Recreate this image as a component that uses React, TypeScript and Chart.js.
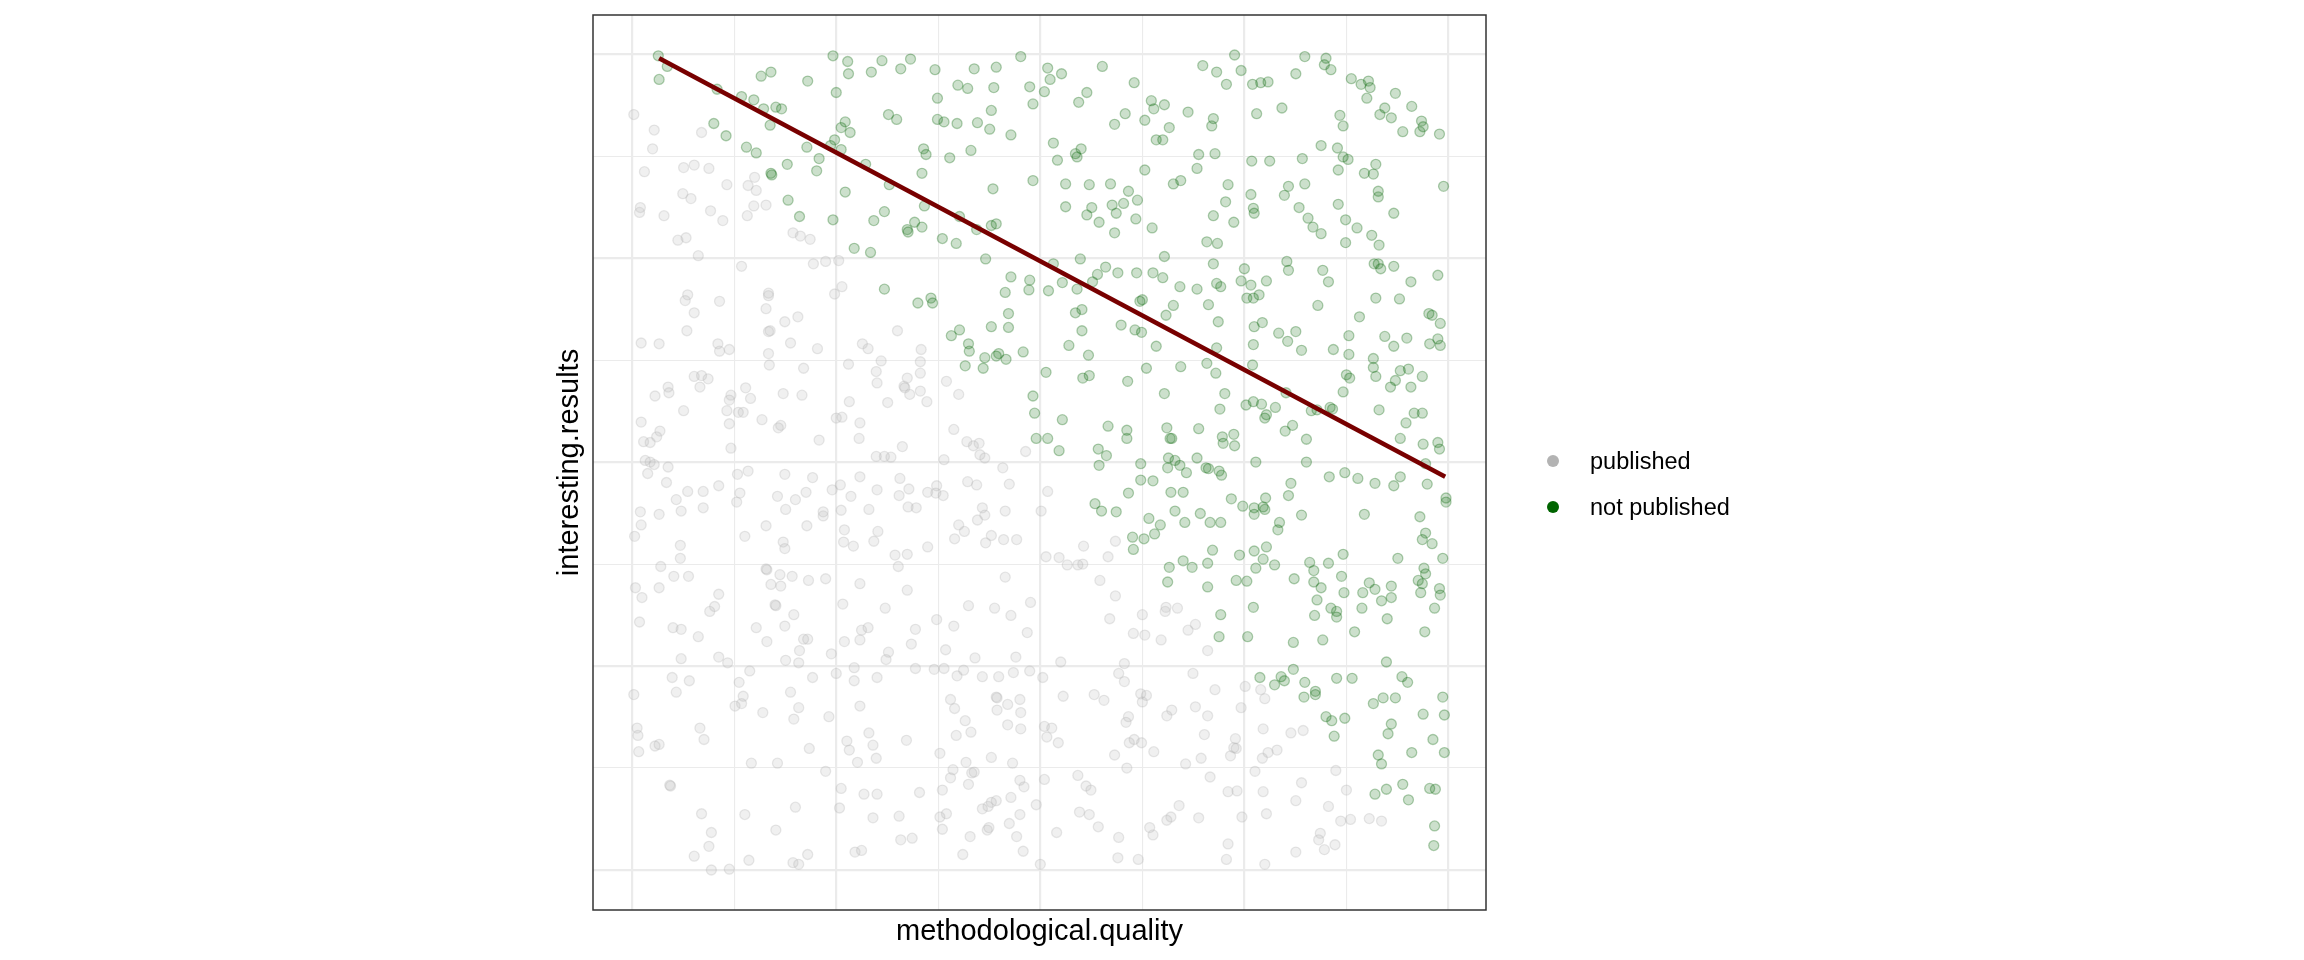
import React, { useEffect, useRef } from 'react';
import Chart from 'chart.js/auto';

// grey points: studies that got published
const published: [number, number][] = [
  // upper left
  [0.002, 0.926], [0.027, 0.907], [0.025, 0.884], [0.085, 0.904], [0.015, 0.856], [0.063, 0.861], [0.076, 0.864],
  [0.094, 0.860], [0.116, 0.840], [0.062, 0.829], [0.072, 0.823], [0.010, 0.812], [0.009, 0.806], [0.039, 0.802],
  [0.096, 0.808], [0.111, 0.796], [0.056, 0.772], [0.066, 0.775], [0.081, 0.753], [0.134, 0.740], [0.150, 0.849],
  [0.142, 0.839], [0.152, 0.833], [0.149, 0.814], [0.141, 0.802], [0.164, 0.815], [0.197, 0.781], [0.206, 0.777],
  [0.218, 0.773], [0.222, 0.743], [0.237, 0.746], [0.253, 0.747], [0.257, 0.715], [0.248, 0.706], [0.068, 0.705],
  [0.065, 0.698], [0.076, 0.683], [0.107, 0.697], [0.167, 0.707], [0.167, 0.704], [0.164, 0.688], [0.187, 0.672],
  [0.203, 0.678], [0.067, 0.661], [0.167, 0.660], [0.169, 0.661], [0.011, 0.646], [0.033, 0.645], [0.105, 0.645],
  [0.107, 0.636], [0.119, 0.638], [0.167, 0.633], [0.194, 0.646], [0.227, 0.639], [0.282, 0.645], [0.289, 0.639],
  [0.325, 0.661], [0.354, 0.638],
  // middle left
  [0.168, 0.619], [0.210, 0.615], [0.265, 0.620], [0.305, 0.624], [0.353, 0.623], [0.299, 0.611], [0.300, 0.597],
  [0.337, 0.603], [0.333, 0.593], [0.334, 0.591], [0.353, 0.609], [0.340, 0.583], [0.353, 0.587], [0.361, 0.574],
  [0.313, 0.573], [0.266, 0.574], [0.076, 0.605], [0.085, 0.606], [0.093, 0.602], [0.083, 0.592], [0.044, 0.592],
  [0.045, 0.585], [0.028, 0.581], [0.063, 0.563], [0.011, 0.549], [0.034, 0.538], [0.030, 0.531], [0.022, 0.524],
  [0.014, 0.525], [0.121, 0.582], [0.119, 0.576], [0.116, 0.563], [0.130, 0.561], [0.136, 0.561], [0.119, 0.547],
  [0.121, 0.517], [0.139, 0.591], [0.145, 0.578], [0.185, 0.584], [0.208, 0.582], [0.159, 0.552], [0.182, 0.545],
  [0.179, 0.542], [0.229, 0.527], [0.250, 0.554], [0.257, 0.555], [0.279, 0.548], [0.278, 0.529], [0.331, 0.519],
  [0.299, 0.507], [0.309, 0.507], [0.317, 0.506], [0.016, 0.502], [0.022, 0.500], [0.027, 0.497], [0.019, 0.486],
  [0.044, 0.494], [0.042, 0.475], [0.068, 0.464], [0.087, 0.464], [0.106, 0.471], [0.054, 0.454], [0.060, 0.440],
  [0.087, 0.444], [0.010, 0.439], [0.033, 0.436], [0.011, 0.423], [0.003, 0.409], [0.059, 0.398], [0.059, 0.382],
  [0.129, 0.485], [0.142, 0.489], [0.132, 0.462], [0.128, 0.451], [0.138, 0.409], [0.187, 0.485], [0.221, 0.481],
  [0.178, 0.458], [0.200, 0.454], [0.213, 0.463], [0.188, 0.442], [0.164, 0.422], [0.214, 0.422], [0.234, 0.439],
  [0.234, 0.434], [0.185, 0.402], [0.187, 0.394], [0.245, 0.466], [0.255, 0.472], [0.279, 0.482], [0.268, 0.458],
  [0.300, 0.466], [0.328, 0.480], [0.339, 0.467], [0.327, 0.459], [0.338, 0.445], [0.348, 0.444], [0.362, 0.463],
  [0.373, 0.471], [0.372, 0.462], [0.256, 0.441], [0.290, 0.442], [0.260, 0.417], [0.259, 0.402], [0.271, 0.397],
  [0.296, 0.403], [0.301, 0.415], [0.322, 0.386], [0.337, 0.387], [0.326, 0.372], [0.362, 0.396], [0.035, 0.372],
  [0.051, 0.360], [0.069, 0.360], [0.004, 0.346], [0.012, 0.334], [0.033, 0.346], [0.106, 0.338], [0.101, 0.323],
  [0.095, 0.317], [0.009, 0.304], [0.050, 0.297], [0.060, 0.295], [0.081, 0.286], [0.060, 0.259], [0.106, 0.261],
  [0.117, 0.254], [0.164, 0.369], [0.165, 0.368], [0.181, 0.362], [0.196, 0.360], [0.170, 0.350], [0.182, 0.348],
  [0.216, 0.355], [0.237, 0.357], [0.175, 0.325], [0.176, 0.324], [0.198, 0.313], [0.152, 0.297], [0.187, 0.299],
  [0.165, 0.280], [0.210, 0.283], [0.215, 0.283], [0.205, 0.269], [0.188, 0.257], [0.204, 0.254], [0.244, 0.265],
  [0.279, 0.351], [0.337, 0.343], [0.258, 0.326], [0.310, 0.321], [0.281, 0.294], [0.289, 0.297], [0.347, 0.295],
  [0.260, 0.280], [0.279, 0.282], [0.342, 0.277], [0.314, 0.267], [0.311, 0.258], [0.373, 0.307],
  // lower left
  [0.049, 0.236], [0.070, 0.232], [0.054, 0.218], [0.002, 0.215], [0.131, 0.230], [0.144, 0.244], [0.136, 0.213],
  [0.126, 0.201], [0.134, 0.204], [0.160, 0.193], [0.194, 0.218], [0.221, 0.236], [0.204, 0.199], [0.198, 0.185],
  [0.241, 0.188], [0.250, 0.241], [0.272, 0.248], [0.272, 0.232], [0.300, 0.236], [0.347, 0.247], [0.370, 0.246],
  [0.279, 0.201], [0.006, 0.174], [0.007, 0.165], [0.008, 0.145], [0.028, 0.152], [0.033, 0.154], [0.083, 0.174],
  [0.088, 0.160], [0.146, 0.131], [0.178, 0.131], [0.217, 0.149], [0.263, 0.158], [0.266, 0.147], [0.290, 0.168],
  [0.295, 0.153], [0.276, 0.132], [0.299, 0.137], [0.336, 0.159], [0.237, 0.121], [0.046, 0.104], [0.047, 0.103],
  [0.085, 0.069], [0.097, 0.046], [0.094, 0.029], [0.076, 0.017], [0.097, 0.000], [0.119, 0.001], [0.138, 0.068],
  [0.143, 0.012], [0.176, 0.049], [0.200, 0.077], [0.215, 0.019], [0.197, 0.009], [0.204, 0.007], [0.256, 0.100],
  [0.254, 0.076], [0.284, 0.093], [0.300, 0.093], [0.295, 0.064], [0.327, 0.066], [0.352, 0.095], [0.329, 0.037],
  [0.343, 0.039], [0.273, 0.022], [0.281, 0.024],
  // middle centre
  [0.385, 0.599], [0.400, 0.583], [0.394, 0.540], [0.410, 0.525], [0.418, 0.520], [0.425, 0.523], [0.426, 0.509],
  [0.432, 0.505], [0.382, 0.503], [0.482, 0.513], [0.454, 0.493], [0.411, 0.476], [0.422, 0.472], [0.462, 0.473],
  [0.381, 0.459], [0.509, 0.464], [0.429, 0.444], [0.432, 0.435], [0.423, 0.429], [0.457, 0.440], [0.501, 0.440],
  [0.400, 0.423], [0.407, 0.415], [0.395, 0.406], [0.433, 0.401], [0.440, 0.410], [0.455, 0.405], [0.471, 0.405],
  [0.507, 0.384], [0.523, 0.383], [0.533, 0.374], [0.546, 0.374], [0.552, 0.375], [0.553, 0.397], [0.583, 0.384],
  [0.592, 0.403], [0.457, 0.359], [0.573, 0.355], [0.592, 0.336], [0.412, 0.324], [0.444, 0.321], [0.464, 0.312],
  [0.488, 0.328], [0.394, 0.299], [0.484, 0.291], [0.585, 0.308], [0.625, 0.313], [0.653, 0.317], [0.654, 0.322],
  [0.668, 0.321], [0.690, 0.301], [0.681, 0.294], [0.614, 0.290], [0.628, 0.288], [0.648, 0.282], [0.705, 0.269],
  [0.384, 0.270], [0.420, 0.260], [0.470, 0.261], [0.525, 0.255], [0.603, 0.253],
  // lower centre
  [0.382, 0.247], [0.398, 0.238], [0.406, 0.245], [0.429, 0.237], [0.449, 0.237], [0.467, 0.242], [0.487, 0.244],
  [0.503, 0.236], [0.390, 0.209], [0.395, 0.198], [0.446, 0.212], [0.447, 0.211], [0.447, 0.196], [0.460, 0.203],
  [0.475, 0.209], [0.476, 0.193], [0.408, 0.183], [0.415, 0.169], [0.397, 0.165], [0.460, 0.178], [0.476, 0.173],
  [0.377, 0.143], [0.409, 0.132], [0.440, 0.138], [0.466, 0.131], [0.528, 0.213], [0.566, 0.215], [0.578, 0.208],
  [0.596, 0.241], [0.603, 0.231], [0.505, 0.176], [0.514, 0.174], [0.508, 0.163], [0.522, 0.156], [0.608, 0.188],
  [0.605, 0.181], [0.591, 0.141], [0.609, 0.156], [0.615, 0.160], [0.624, 0.156], [0.606, 0.125], [0.623, 0.216],
  [0.630, 0.214], [0.625, 0.206], [0.639, 0.145], [0.687, 0.241], [0.714, 0.221], [0.661, 0.196], [0.655, 0.189],
  [0.690, 0.200], [0.705, 0.189], [0.701, 0.166], [0.678, 0.130], [0.697, 0.137], [0.733, 0.140], [0.739, 0.161],
  [0.737, 0.150], [0.740, 0.149], [0.746, 0.199], [0.393, 0.123], [0.390, 0.113], [0.416, 0.119], [0.419, 0.120],
  [0.380, 0.098], [0.412, 0.105], [0.475, 0.110], [0.480, 0.102], [0.385, 0.069], [0.377, 0.065], [0.380, 0.050],
  [0.429, 0.075], [0.436, 0.078], [0.440, 0.083], [0.446, 0.085], [0.464, 0.089], [0.475, 0.068], [0.462, 0.057],
  [0.495, 0.080], [0.435, 0.049], [0.437, 0.052], [0.414, 0.041], [0.471, 0.041], [0.405, 0.019], [0.479, 0.023],
  [0.500, 0.007], [0.505, 0.111], [0.546, 0.116], [0.556, 0.103], [0.562, 0.098], [0.548, 0.071], [0.560, 0.068],
  [0.571, 0.053], [0.520, 0.046], [0.596, 0.040], [0.595, 0.015], [0.620, 0.013], [0.708, 0.114], [0.670, 0.079],
  [0.660, 0.065], [0.655, 0.061], [0.634, 0.052], [0.638, 0.043], [0.694, 0.064], [0.730, 0.096], [0.741, 0.097],
  [0.747, 0.065], [0.730, 0.032], [0.728, 0.013],
  // lower right
  [0.751, 0.225], [0.770, 0.221], [0.775, 0.210], [0.773, 0.173], [0.807, 0.168], [0.822, 0.171], [0.779, 0.144],
  [0.772, 0.137], [0.790, 0.147], [0.763, 0.121], [0.820, 0.107], [0.862, 0.122], [0.875, 0.098], [0.773, 0.096],
  [0.813, 0.085], [0.777, 0.069], [0.853, 0.078], [0.868, 0.060], [0.880, 0.062], [0.903, 0.063], [0.918, 0.060],
  [0.843, 0.045], [0.841, 0.037], [0.848, 0.025], [0.861, 0.031], [0.813, 0.022], [0.775, 0.007],
];

// green points: studies that were not published
const notPublished: [number, number][] = [
  // upper left
  [0.032, 0.998], [0.043, 0.985], [0.033, 0.969], [0.104, 0.957], [0.100, 0.915], [0.115, 0.900], [0.134, 0.948],
  [0.149, 0.944], [0.158, 0.973], [0.170, 0.978], [0.161, 0.933], [0.176, 0.935], [0.183, 0.933], [0.169, 0.913],
  [0.140, 0.886], [0.152, 0.879], [0.170, 0.854], [0.171, 0.852], [0.190, 0.865], [0.191, 0.821], [0.205, 0.801],
  [0.215, 0.967], [0.214, 0.886], [0.229, 0.872], [0.226, 0.857], [0.246, 0.998], [0.250, 0.953], [0.264, 0.991],
  [0.265, 0.976], [0.261, 0.917], [0.256, 0.910], [0.267, 0.904], [0.248, 0.895], [0.243, 0.888], [0.256, 0.883],
  [0.261, 0.831], [0.246, 0.797], [0.272, 0.762], [0.292, 0.757], [0.293, 0.978], [0.306, 0.992], [0.329, 0.982],
  [0.341, 0.994], [0.371, 0.981], [0.374, 0.946], [0.314, 0.926], [0.324, 0.920], [0.374, 0.920], [0.357, 0.884],
  [0.360, 0.877], [0.355, 0.854], [0.286, 0.865], [0.315, 0.840], [0.358, 0.814], [0.309, 0.807], [0.296, 0.796],
  [0.337, 0.785], [0.338, 0.782], [0.346, 0.794], [0.355, 0.788], [0.309, 0.712], [0.350, 0.695], [0.366, 0.701],
  [0.368, 0.695],
  // upper centre
  [0.419, 0.982], [0.446, 0.984], [0.476, 0.997], [0.399, 0.962], [0.411, 0.958], [0.443, 0.959], [0.440, 0.931],
  [0.382, 0.917], [0.398, 0.915], [0.423, 0.916], [0.438, 0.908], [0.464, 0.901], [0.415, 0.882], [0.389, 0.873],
  [0.442, 0.835], [0.491, 0.845], [0.401, 0.801], [0.440, 0.790], [0.446, 0.792], [0.422, 0.785], [0.380, 0.774],
  [0.397, 0.768], [0.433, 0.749], [0.464, 0.727], [0.487, 0.723], [0.457, 0.708], [0.486, 0.711], [0.461, 0.682],
  [0.440, 0.666], [0.461, 0.665], [0.391, 0.655], [0.401, 0.662], [0.412, 0.645], [0.413, 0.636], [0.432, 0.628],
  [0.446, 0.630], [0.449, 0.633], [0.458, 0.626], [0.479, 0.635], [0.487, 0.960], [0.491, 0.939], [0.505, 0.954],
  [0.509, 0.983], [0.512, 0.969], [0.526, 0.976], [0.576, 0.985], [0.557, 0.953], [0.547, 0.941], [0.516, 0.891],
  [0.521, 0.870], [0.543, 0.878], [0.545, 0.874], [0.550, 0.884], [0.531, 0.841], [0.531, 0.813], [0.560, 0.840],
  [0.586, 0.841], [0.608, 0.832], [0.619, 0.821], [0.588, 0.815], [0.602, 0.817], [0.593, 0.805], [0.563, 0.812],
  [0.557, 0.803], [0.572, 0.794], [0.591, 0.781], [0.617, 0.798], [0.516, 0.743], [0.510, 0.710], [0.527, 0.720],
  [0.545, 0.712], [0.549, 0.749], [0.564, 0.721], [0.570, 0.730], [0.580, 0.739], [0.595, 0.732], [0.543, 0.683],
  [0.551, 0.687], [0.551, 0.661], [0.535, 0.643], [0.559, 0.631], [0.599, 0.668], [0.616, 0.662], [0.624, 0.659],
  [0.622, 0.697], [0.625, 0.699], [0.618, 0.732], [0.642, 0.642], [0.615, 0.965], [0.604, 0.927], [0.591, 0.914],
  [0.628, 0.919], [0.636, 0.943], [0.639, 0.933], [0.652, 0.938], [0.658, 0.910], [0.642, 0.895], [0.650, 0.895],
  [0.628, 0.858], [0.663, 0.841], [0.672, 0.845], [0.637, 0.787], [0.652, 0.752], [0.638, 0.732], [0.650, 0.726],
  [0.671, 0.715], [0.692, 0.712], [0.663, 0.692], [0.654, 0.680], [0.681, 0.929], [0.699, 0.986], [0.716, 0.978],
  [0.728, 0.963], [0.738, 0.999], [0.746, 0.980], [0.712, 0.921], [0.710, 0.912], [0.694, 0.877], [0.714, 0.878],
  [0.692, 0.860], [0.730, 0.840], [0.727, 0.819], [0.712, 0.802], [0.737, 0.794], [0.704, 0.770], [0.717, 0.768],
  [0.712, 0.743], [0.716, 0.719], [0.721, 0.715], [0.706, 0.693], [0.718, 0.672], [0.716, 0.640], [0.746, 0.722],
  // upper right
  [0.760, 0.963], [0.770, 0.965], [0.779, 0.966], [0.765, 0.927], [0.796, 0.934], [0.813, 0.976], [0.824, 0.997],
  [0.850, 0.995], [0.848, 0.987], [0.856, 0.981], [0.881, 0.970], [0.893, 0.963], [0.902, 0.967], [0.904, 0.959],
  [0.900, 0.946], [0.935, 0.952], [0.922, 0.934], [0.916, 0.926], [0.930, 0.922], [0.955, 0.936], [0.944, 0.905],
  [0.967, 0.918], [0.969, 0.911], [0.965, 0.905], [0.989, 0.902], [0.867, 0.925], [0.871, 0.912], [0.844, 0.888],
  [0.864, 0.885], [0.871, 0.874], [0.877, 0.871], [0.865, 0.858], [0.759, 0.869], [0.781, 0.869], [0.821, 0.872],
  [0.911, 0.865], [0.897, 0.854], [0.908, 0.853], [0.994, 0.838], [0.758, 0.828], [0.804, 0.838], [0.824, 0.841],
  [0.799, 0.827], [0.761, 0.811], [0.762, 0.805], [0.817, 0.812], [0.828, 0.799], [0.834, 0.788], [0.844, 0.780],
  [0.865, 0.816], [0.874, 0.797], [0.888, 0.787], [0.874, 0.769], [0.914, 0.832], [0.914, 0.825], [0.933, 0.805],
  [0.906, 0.778], [0.915, 0.766], [0.750, 0.737], [0.802, 0.746], [0.804, 0.735], [0.846, 0.735], [0.853, 0.721],
  [0.758, 0.717], [0.777, 0.722], [0.753, 0.701], [0.761, 0.701], [0.768, 0.705], [0.840, 0.692], [0.909, 0.743],
  [0.914, 0.743], [0.917, 0.737], [0.933, 0.740], [0.954, 0.721], [0.987, 0.729], [0.911, 0.701], [0.940, 0.700],
  [0.891, 0.678], [0.976, 0.682], [0.980, 0.680], [0.990, 0.670], [0.762, 0.666], [0.772, 0.671], [0.792, 0.658],
  [0.813, 0.660], [0.803, 0.648], [0.761, 0.644], [0.820, 0.637], [0.859, 0.638], [0.878, 0.655], [0.878, 0.632],
  [0.922, 0.654], [0.933, 0.642], [0.949, 0.652], [0.977, 0.645], [0.987, 0.651], [0.990, 0.643], [0.908, 0.627],
  // middle centre
  [0.408, 0.618], [0.430, 0.615], [0.507, 0.610], [0.552, 0.603], [0.560, 0.606], [0.607, 0.599], [0.630, 0.615],
  [0.672, 0.617], [0.704, 0.621], [0.715, 0.609], [0.726, 0.584], [0.720, 0.565], [0.652, 0.584], [0.491, 0.581],
  [0.493, 0.560], [0.527, 0.552], [0.495, 0.529], [0.509, 0.529], [0.523, 0.514], [0.583, 0.544], [0.606, 0.539],
  [0.606, 0.529], [0.571, 0.516], [0.581, 0.508], [0.572, 0.496], [0.655, 0.542], [0.659, 0.529], [0.661, 0.529],
  [0.694, 0.541], [0.723, 0.531], [0.737, 0.534], [0.724, 0.523], [0.738, 0.520], [0.657, 0.505], [0.665, 0.502],
  [0.671, 0.496], [0.656, 0.493], [0.679, 0.487], [0.692, 0.505], [0.703, 0.493], [0.706, 0.492], [0.719, 0.489],
  [0.722, 0.484], [0.623, 0.498], [0.623, 0.478], [0.638, 0.477], [0.608, 0.462], [0.567, 0.449], [0.575, 0.440],
  [0.593, 0.439], [0.660, 0.463], [0.675, 0.463], [0.665, 0.440], [0.633, 0.431], [0.647, 0.423], [0.640, 0.412],
  [0.627, 0.406], [0.613, 0.408], [0.614, 0.393], [0.677, 0.426], [0.696, 0.437], [0.708, 0.426], [0.721, 0.426],
  [0.734, 0.455], [0.748, 0.446], [0.711, 0.392], [0.744, 0.386], [0.658, 0.371], [0.675, 0.379], [0.686, 0.371],
  [0.705, 0.376], [0.656, 0.353], [0.705, 0.347], [0.740, 0.355], [0.721, 0.313], [0.719, 0.286],
  // middle right
  [0.760, 0.619], [0.908, 0.616], [0.911, 0.605], [0.941, 0.612], [0.951, 0.614], [0.935, 0.600], [0.929, 0.592],
  [0.954, 0.592], [0.968, 0.605], [0.875, 0.607], [0.879, 0.603], [0.871, 0.586], [0.915, 0.564], [0.948, 0.548],
  [0.958, 0.560], [0.968, 0.560], [0.941, 0.529], [0.969, 0.522], [0.987, 0.524], [0.989, 0.516], [0.972, 0.498],
  [0.974, 0.473], [0.997, 0.456], [0.997, 0.451], [0.752, 0.570], [0.761, 0.574], [0.771, 0.571], [0.788, 0.567],
  [0.777, 0.558], [0.775, 0.554], [0.801, 0.585], [0.832, 0.563], [0.839, 0.564], [0.855, 0.567], [0.858, 0.565],
  [0.809, 0.545], [0.800, 0.538], [0.826, 0.528], [0.764, 0.500], [0.826, 0.500], [0.854, 0.482], [0.873, 0.487],
  [0.889, 0.480], [0.910, 0.474], [0.933, 0.471], [0.941, 0.482], [0.807, 0.474], [0.804, 0.459], [0.776, 0.456],
  [0.762, 0.444], [0.762, 0.436], [0.773, 0.445], [0.775, 0.442], [0.820, 0.435], [0.793, 0.426], [0.791, 0.417],
  [0.897, 0.436], [0.965, 0.433], [0.972, 0.413], [0.968, 0.405], [0.980, 0.400], [0.762, 0.391], [0.777, 0.396],
  [0.773, 0.381], [0.764, 0.370], [0.787, 0.374], [0.753, 0.354], [0.811, 0.357], [0.830, 0.377], [0.835, 0.367],
  [0.853, 0.376], [0.871, 0.387], [0.835, 0.353], [0.844, 0.346], [0.869, 0.360], [0.872, 0.340], [0.839, 0.331],
  [0.836, 0.312], [0.856, 0.321], [0.863, 0.317], [0.863, 0.310], [0.761, 0.322], [0.754, 0.286], [0.810, 0.279],
  [0.846, 0.282], [0.885, 0.292], [0.894, 0.321], [0.895, 0.340], [0.903, 0.352], [0.910, 0.344], [0.918, 0.330],
  [0.930, 0.348], [0.930, 0.334], [0.925, 0.308], [0.938, 0.382], [0.970, 0.370], [0.972, 0.363], [0.963, 0.355],
  [0.968, 0.351], [0.966, 0.340], [0.989, 0.345], [0.990, 0.337], [0.983, 0.321], [0.993, 0.382], [0.971, 0.292],
  [0.924, 0.255],
  // lower right
  [0.769, 0.236], [0.787, 0.227], [0.795, 0.237], [0.799, 0.232], [0.810, 0.246], [0.824, 0.230], [0.823, 0.212],
  [0.837, 0.219], [0.837, 0.215], [0.863, 0.235], [0.882, 0.235], [0.943, 0.237], [0.950, 0.230], [0.908, 0.204],
  [0.920, 0.211], [0.935, 0.211], [0.993, 0.212], [0.969, 0.191], [0.995, 0.190], [0.850, 0.188], [0.857, 0.183],
  [0.873, 0.186], [0.860, 0.164], [0.930, 0.179], [0.926, 0.167], [0.981, 0.160], [0.955, 0.144], [0.995, 0.144],
  [0.914, 0.141], [0.918, 0.130], [0.910, 0.093], [0.924, 0.099], [0.944, 0.105], [0.951, 0.086], [0.977, 0.100],
  [0.984, 0.099], [0.983, 0.054], [0.982, 0.030],
];

// linear fit through the unpublished studies
const fitLine: [number, number][] = [[0.033, 0.995], [0.996, 0.482]];

const gridValues = [0, 0.125, 0.25, 0.375, 0.5, 0.625, 0.75, 0.875, 1];
const majorValues = [0, 0.25, 0.5, 0.75, 1];

const legendItems = [
  { label: 'published', color: '#B3B3B3' },
  { label: 'not published', color: '#006400' },
];

const toXY = (pts: [number, number][]) => pts.map(([x, y]) => ({ x, y }));

const FONT = '"Liberation Sans", Arial, Helvetica, sans-serif';

const panelBorder = {
  id: 'panelBorder',
  afterDatasetsDraw(chart: any) {
    const { ctx, chartArea } = chart;
    ctx.save();
    ctx.strokeStyle = '#333333';
    ctx.lineWidth = 1.5;
    ctx.strokeRect(chartArea.left, chartArea.top, chartArea.right - chartArea.left, chartArea.bottom - chartArea.top);
    ctx.restore();
  },
};

const gridOptions = {
  color: '#EBEBEB',
  lineWidth: (c: any) => (majorValues.includes(c.tick?.value) ? 2.2 : 1.1),
  drawTicks: false,
};

const App = () => {
  const canvasRef = useRef<HTMLCanvasElement>(null);
  const chartRef = useRef<Chart | null>(null);

  useEffect(() => {
    if (!canvasRef.current) return;
    if (chartRef.current) chartRef.current.destroy();

    chartRef.current = new Chart(canvasRef.current, {
      type: 'scatter',
      data: {
        datasets: [
          {
            label: 'fit',
            data: toXY(fitLine),
            showLine: true,
            borderColor: '#780000',
            borderWidth: 4.6,
            pointRadius: 0,
          },
          {
            label: 'not published',
            data: toXY(notPublished),
            backgroundColor: 'rgba(0,100,0,0.2)',
            borderColor: 'rgba(0,100,0,0.3)',
            borderWidth: 1.3,
            pointRadius: 5,
          },
          {
            label: 'published',
            data: toXY(published),
            backgroundColor: 'rgba(179,179,179,0.2)',
            borderColor: 'rgba(179,179,179,0.3)',
            borderWidth: 1.3,
            pointRadius: 5,
          },
        ],
      },
      options: {
        animation: false,
        responsive: true,
        maintainAspectRatio: false,
        events: [],
        layout: { padding: { left: 551.5, right: 818, top: 15, bottom: 9.5 } },
        plugins: {
          legend: { display: false },
          tooltip: { enabled: false },
        },
        scales: {
          x: {
            type: 'linear',
            min: -0.048,
            max: 1.046,
            afterBuildTicks: (scale: any) => {
              scale.ticks = gridValues.map((value) => ({ value }));
            },
            ticks: { display: false },
            grid: gridOptions,
            border: { display: false },
            title: {
              display: true,
              text: 'methodological.quality',
              color: '#000000',
              font: { family: FONT, size: 29, lineHeight: 1 },
              padding: { top: 7.5, bottom: 4 },
            },
          },
          y: {
            type: 'linear',
            min: -0.049,
            max: 1.048,
            afterBuildTicks: (scale: any) => {
              scale.ticks = gridValues.map((value) => ({ value }));
            },
            ticks: { display: false },
            grid: gridOptions,
            border: { display: false },
            title: {
              display: true,
              text: 'interesting.results',
              color: '#000000',
              font: { family: FONT, size: 29, lineHeight: 1 },
              padding: { top: 4, bottom: 8.5 },
            },
          },
        },
      },
      plugins: [panelBorder],
    });

    return () => {
      if (chartRef.current) {
        chartRef.current.destroy();
        chartRef.current = null;
      }
    };
  }, []);

  return (
    <div style={{ position: 'absolute', left: 0, top: 0, width: 2304, height: 960, background: '#ffffff' }}>
      <canvas ref={canvasRef}></canvas>
      <div style={{ position: 'absolute', left: 1547, top: 438, fontFamily: FONT, fontSize: 23.5, color: '#000000' }}>
        {legendItems.map((item) => (
          <div key={item.label} style={{ display: 'flex', alignItems: 'center', height: 46 }}>
            <span
              style={{
                display: 'inline-block',
                width: 12,
                height: 12,
                borderRadius: '50%',
                background: item.color,
                marginRight: 31,
              }}
            ></span>
            <span>{item.label}</span>
          </div>
        ))}
      </div>
    </div>
  );
};

export default App;
